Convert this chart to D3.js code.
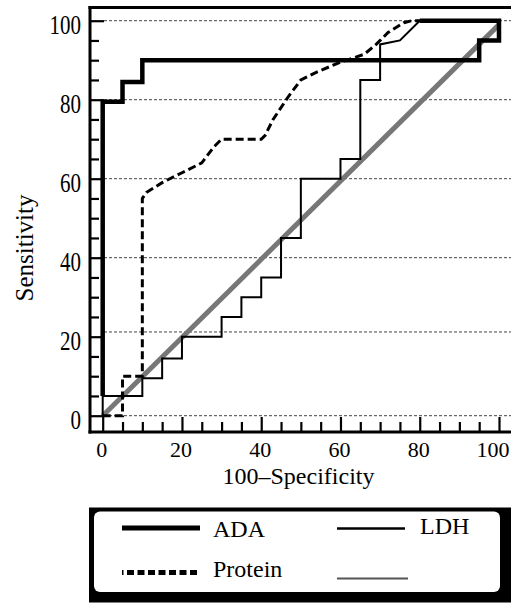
<!DOCTYPE html>
<html lang="en">
<head>
<meta charset="utf-8">
<script src="https://cdn.jsdelivr.net/npm/d3@7"></script>
<style>
  body { margin: 0; background: #fff; }
</style>
</head>
<body>
<svg width="511" height="604" id="plot" font-family="Liberation Serif"></svg>
<script>
// ROC curves (100-specificity, sensitivity)
const adaX = [0, 0, 5, 5, 10, 10, 95, 95, 100, 100, 80];
const adaY = [5, 79.5, 79.5, 84.5, 84.5, 90, 90, 95, 95, 100, 100];

const ldhX = [0, 0, 10, 10, 15, 15, 20, 20, 30, 30, 35, 35, 40, 40, 45, 45, 50, 50, 60, 60, 65, 65, 70, 70, 75, 80, 100];
const ldhY = [0, 5, 5, 9.5, 9.5, 14.5, 14.5, 20, 20, 25, 25, 30, 30, 35, 35, 45, 45, 60, 60, 65, 65, 85, 85, 94, 95, 100, 100];

const protX = [0, 5, 5, 10, 10, 11, 15, 20, 25, 28, 30, 40, 41, 43, 47, 50, 54, 60, 66, 69, 72, 76, 78, 100];
const protY = [0, 0, 10, 10, 55, 56.5, 59, 61.5, 64, 68, 70, 70, 71, 75, 81, 85, 87, 89.5, 91.5, 94, 97, 99.5, 100, 100];

// reference line
const diagX = [0, 100];
const diagY = [0, 99];

const tickLabels = [0, 20, 40, 60, 80, 100];
const minorTicks = d3.range(0, 101, 5);
const gridValues = [0, 21.2, 40, 60, 80, 100];

const legendItems = ["ADA", "LDH", "Protein", ""];

let svg = d3.select("#plot")

let x = d3.scaleLinear().domain([0, 100]).range([102.7, 499])
let y = d3.scaleLinear().domain([0, 100]).range([415.7, 20.7])

// grid lines
svg.append("g").selectAll("line")
    .data(gridValues)
    .enter()
    .append("line")
    .attr("x1", 104).attr("x2", 511)
    .attr("y1", d => y(d)).attr("y2", d => y(d))
    .attr("stroke", "#444")
    .attr("stroke-width", 1)
    .attr("stroke-dasharray", "3,2")

// axis ticks (inward)
let axisY = d3.axisRight(y).tickValues(minorTicks).tickFormat("")
    .tickSize(9).tickSizeOuter(0)
let gy = svg.append("g").attr("transform", "translate(90,0)").call(axisY)
gy.select(".domain").remove()
gy.selectAll(".tick line")
    .attr("stroke-width", 2.2)
    .attr("x2", d => d % 20 == 0 ? 14 : 9)

let axisX = d3.axisTop(x).tickValues(minorTicks).tickFormat("")
    .tickSize(10).tickSizeOuter(0)
let gx = svg.append("g").attr("transform", "translate(0,432)").call(axisX)
gx.select(".domain").remove()
gx.selectAll(".tick line")
    .attr("stroke-width", 2.2)
    .attr("y2", d => d % 20 == 0 ? -15 : -10)

// frame
svg.append("line").attr("x1", 90).attr("x2", 90).attr("y1", 6).attr("y2", 433.5)
    .attr("stroke", "#000").attr("stroke-width", 3)
svg.append("line").attr("x1", 88.5).attr("x2", 511).attr("y1", 432).attr("y2", 432)
    .attr("stroke", "#000").attr("stroke-width", 2.8)
svg.append("line").attr("x1", 88.5).attr("x2", 511).attr("y1", 7.5).attr("y2", 7.5)
    .attr("stroke", "#000").attr("stroke-width", 3)

// tick labels
svg.append("g").selectAll("text")
    .data(tickLabels)
    .enter()
    .append("text")
    .attr("transform", d => "translate(81," + (y(d) + 4.5) + ") scale(1,1.25)")
    .attr("dy", "0.35em")
    .attr("text-anchor", "end")
    .attr("font-size", 21)
    .text(d => d)

svg.append("g").selectAll("text")
    .data(tickLabels)
    .enter()
    .append("text")
    .attr("x", d => Math.min(x(d) - 1, 493))
    .attr("y", 456.7)
    .attr("text-anchor", "middle")
    .attr("font-size", 22)
    .text(d => d)

// axis titles
svg.append("text")
    .text("100\u2013Specificity")
    .attr("x", 298.5)
    .attr("y", 484)
    .attr("text-anchor", "middle")
    .attr("font-size", 24)

svg.append("text")
    .text("Sensitivity")
    .attr("transform", "translate(33,248) rotate(-90)")
    .attr("text-anchor", "middle")
    .attr("font-size", 25)

// curves
let line = d3.line()
    .x(d => x(d[0]))
    .y(d => y(d[1]))

svg.append("path")
    .datum(diagX.map((v, i) => [v, diagY[i]]))
    .attr("fill", "none")
    .attr("stroke", "#777")
    .attr("stroke-width", 5)
    .attr("d", line)

svg.append("path")
    .datum(protX.map((v, i) => [v, protY[i]]))
    .attr("fill", "none")
    .attr("stroke", "#000")
    .attr("stroke-width", 3)
    .attr("stroke-dasharray", "8,4")
    .attr("d", line)

svg.append("path")
    .datum(ldhX.map((v, i) => [v, ldhY[i]]))
    .attr("fill", "none")
    .attr("stroke", "#000")
    .attr("stroke-width", 2)
    .attr("d", line)

svg.append("path")
    .datum(adaX.map((v, i) => [v, adaY[i]]))
    .attr("fill", "none")
    .attr("stroke", "#000")
    .attr("stroke-width", 4.5)
    .attr("d", line)

// legend box
let legend = svg.append("g")
legend.append("rect")
    .attr("x", 89).attr("y", 507.5).attr("width", 422).attr("height", 95)
    .attr("fill", "#000")
legend.append("rect")
    .attr("x", 94).attr("y", 511.5).attr("width", 406).attr("height", 80.5)
    .attr("rx", 6).attr("ry", 6)
    .attr("fill", "#fff")

// legend entries
legend.append("line").attr("x1", 122).attr("x2", 200).attr("y1", 528).attr("y2", 528)
    .attr("stroke", "#000").attr("stroke-width", 5)
legend.append("text").text(legendItems[0]).attr("x", 213).attr("y", 536.5)
    .attr("font-size", 24)

legend.append("line").attr("x1", 337).attr("x2", 405).attr("y1", 528.5).attr("y2", 528.5)
    .attr("stroke", "#000").attr("stroke-width", 2.5)
legend.append("text").text(legendItems[1]).attr("x", 420).attr("y", 534)
    .attr("font-size", 24)

legend.append("line").attr("x1", 122).attr("x2", 200).attr("y1", 572.5).attr("y2", 572.5)
    .attr("stroke", "#000").attr("stroke-width", 5)
    .attr("stroke-dasharray", "1.5,3.5,7,3.5,7,3.5,7,3.5,7,3.5,7,3.5,7,3.5,7,3.5,7")
legend.append("text").text(legendItems[2]).attr("x", 213).attr("y", 576.5)
    .attr("font-size", 24)

legend.append("line").attr("x1", 337).attr("x2", 408).attr("y1", 578.5).attr("y2", 578.5)
    .attr("stroke", "#555").attr("stroke-width", 2)
</script>
</body>
</html>
